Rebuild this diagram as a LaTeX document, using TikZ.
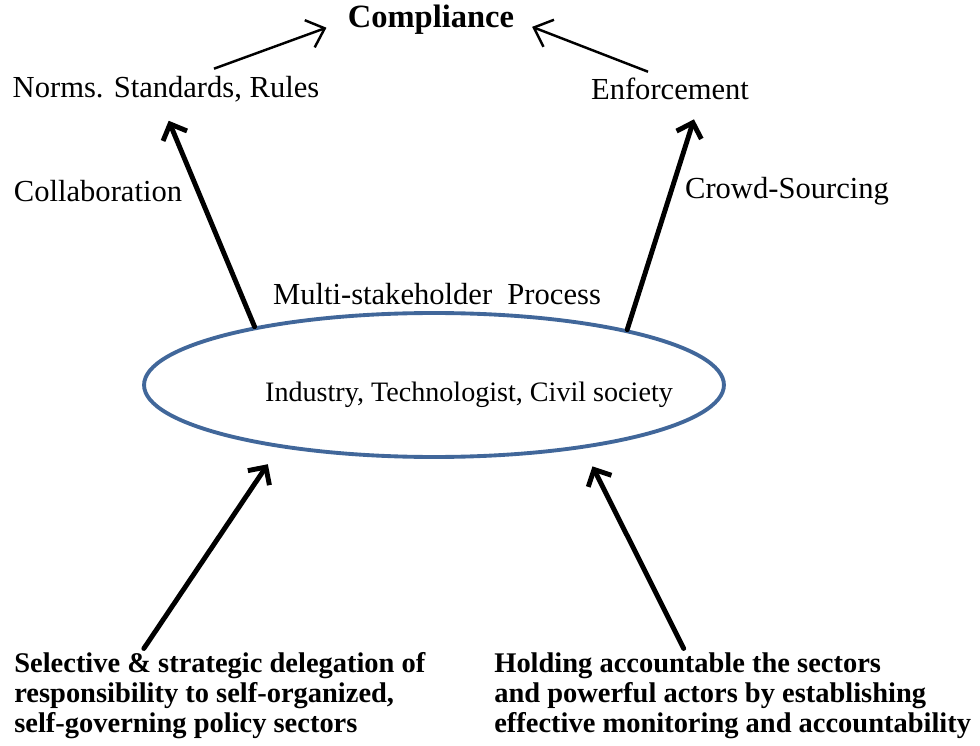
\documentclass[tikz,border=0pt]{standalone}
\usepackage{fontspec}
\setmainfont{Liberation Serif}
\usepackage{tikz}
\usetikzlibrary{arrows.meta, positioning, shapes.geometric}

\definecolor{ringblue}{HTML}{41679A}

\begin{document}
\begin{tikzpicture}[
  x=0.02cm, y=-0.02cm,
  lbl/.style = {inner sep=0pt, font=\fontsize{17.4}{20}\selectfont},
  thin arrow/.style = {-{Straight Barb[length=3.2mm, width=5.8mm]}, line width=1.4pt},
  thick arrow/.style = {-{Straight Barb[length=2.6mm, width=5.2mm]}, line width=2.8pt, line cap=round},
  bottom text/.style = {inner sep=0pt, align=left, anchor=north west,
    font=\fontsize{16.2}{17.1}\selectfont\bfseries}
  ]
  \useasboundingbox (0,0) rectangle (980,746);
  % top row
  \node[lbl, font=\fontsize{18.5}{20}\selectfont\bfseries] (compl) at (431,20) {Compliance};
  \node[lbl] (norms) at (166,89) {Norms. Standards, Rules};
  \node[lbl] (enforce) at (670,89) {Enforcement};
  \node[lbl] (collab) at (98,191) {Collaboration};
  \node[lbl] (crowd) at (787,191) {Crowd-Sourcing};
  % the process
  \node[lbl] (msp) at (437,294) {Multi-stakeholder\ \ Process};
  \node[draw=ringblue, line width=2.2pt, ellipse, minimum width=11.6cm, minimum height=2.88cm, inner sep=0pt]
    (stake) at (434,385) {};
  \node[lbl, font=\fontsize{16}{18}\selectfont] (actors) at (469,395) {Industry, Technologist, Civil society};
  % bottom
  \node[bottom text] (deleg) at (14,652) {Selective \& strategic delegation of\\responsibility to self-organized,\\self-governing policy sectors};
  \node[bottom text] (account) at (494,652) {Holding accountable the sectors\\and powerful actors by establishing\\effective monitoring and accountability};

  \draw[thin arrow, shorten >=0.45cm] ([xshift=0.96cm, yshift=0.14cm]norms.north) -- (compl.west);
  \draw[thin arrow, shorten >=0.38cm] ([xshift=-0.44cm, yshift=0.12cm]enforce.north) -- (compl.east);
  \draw[thick arrow, shorten >=0.4cm] (stake.162) -- ([xshift=-0.1cm]norms.south);
  \draw[thick arrow, shorten >=0.4cm] (stake.16) -- ([xshift=0.6cm]enforce.south);
  \draw[thick arrow, shorten >=0.4cm] ([xshift=-1.52cm, yshift=2pt]deleg.north) -- (stake.202);
  \draw[thick arrow, shorten >=0.4cm] ([xshift=-0.98cm, yshift=2pt]account.north) -- (stake.337);
\end{tikzpicture}
\end{document}
